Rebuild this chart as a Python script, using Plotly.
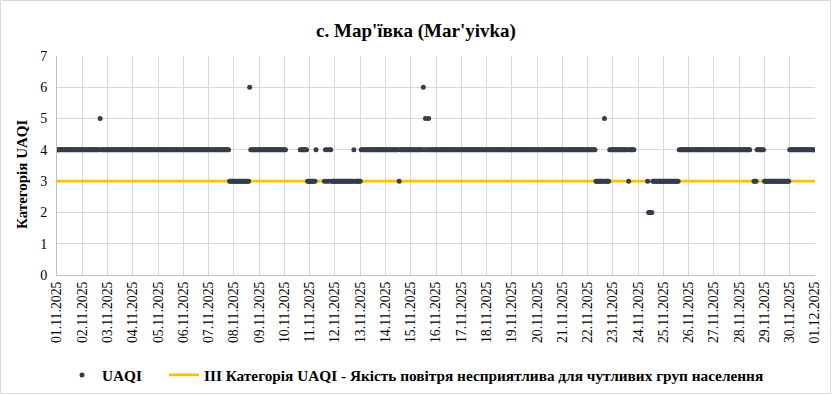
import datetime as dt
import plotly.graph_objects as go

# Hourly UAQI category, one string per day (24 hours), '-' = no data
start_date = dt.datetime(2025, 11, 1)
uaqi_by_day = [
    "444444444444444444444444",  # 01.11
    "444444444444444445444444",  # 02.11
    "444444444444444444444444",  # 03.11
    "444444444444444444444444",  # 04.11
    "444444444444444444444444",  # 05.11
    "444444444444444444444444",  # 06.11
    "444444444444444444443333",  # 07.11
    "333333333333333644444444",  # 08.11
    "444444444444444444444444",  # 09.11
    "44-------------444444433",  # 10.11
    "3333334-------3434344333",  # 11.11
    "333333333333333333433333",  # 12.11
    "344444444444444444444444",  # 13.11
    "444444444444434444444444",  # 14.11
    "444444444444645445444444",  # 15.11
    "444444444444444444444444",  # 16.11
    "444444444444444444444444",  # 17.11
    "444444444444444444444444",  # 18.11
    "444444444444444444444444",  # 19.11
    "444444444444444444444444",  # 20.11
    "444444444444444444444444",  # 21.11
    "444444443333333353333444",  # 22.11
    "444444444444444344444---",  # 23.11
    "---------322223333333333",  # 24.11
    "333333333333333444444444",  # 25.11
    "444444444444444444444444",  # 26.11
    "444444444444444444444444",  # 27.11
    "44444444444---3334444444",  # 28.11
    "333333333333333333333333",  # 29.11
    "444444444444444444444444",  # 30.11
]
threshold_value = 3
threshold_dates = ["2025-11-01", "2025-12-01"]
title_text = "с. Мар'ївка (Mar'yivka)"
y_title = "Категорія UAQI"
series_name = "UAQI"
threshold_name = "III Категорія UAQI - Якість повітря несприятлива для чутливих груп населення"

xs, ys = [], []
for d, day in enumerate(uaqi_by_day):
    for h, ch in enumerate(day):
        if ch != "-":
            xs.append(start_date + dt.timedelta(days=d, hours=h))
            ys.append(int(ch))

FONT = "Liberation Serif, Times New Roman, serif"
W, H = 832, 395
ml, mr, mt, mb = 57, 17, 56, 120
pw = W - ml - mr
ph = H - mt - mb


def px_x(x):
    return (x - ml) / pw


def px_y(y):
    return (H - mb - y) / ph


fig = go.Figure()
fig.add_trace(go.Scatter(
    x=threshold_dates, y=[threshold_value] * len(threshold_dates),
    mode="lines", name=threshold_name, legend="legend2",
    line=dict(color="#FFC000", width=2.75),
))
fig.add_trace(go.Scatter(
    x=xs, y=ys, mode="markers", name=series_name, legend="legend",
    marker=dict(color="#333d4d", size=5),
))

fig.add_shape(type="rect", xref="paper", yref="paper",
              x0=px_x(0.5), x1=px_x(W - 1.5),
              y0=px_y(H - 1.5), y1=px_y(0.5),
              line=dict(color="#d9d9d9", width=1), layer="below")

fig.add_annotation(text="<b>%s</b>" % y_title, xref="paper", yref="paper",
                   x=px_x(22), y=px_y(175), textangle=-90, showarrow=False,
                   xanchor="center", yanchor="middle",
                   font=dict(family=FONT, size=15, color="#000"))

legend_font = dict(family=FONT, size=15.3, weight="bold", color="#000")
fig.update_layout(
    width=W, height=H,
    margin=dict(l=ml, r=mr, t=mt, b=mb, autoexpand=False),
    paper_bgcolor="white", plot_bgcolor="white",
    font=dict(family=FONT, color="#000000", size=14),
    title=dict(text=title_text, x=0.5, xref="container", xanchor="center",
               y=1 - 30 / H, yanchor="middle",
               font=dict(family=FONT, size=19, weight="bold", color="#000")),
    xaxis=dict(type="date", range=["2025-11-01", "2025-12-01"],
               tick0="2025-11-01", dtick=86400000, tickformat="%d.%m.%Y",
               tickangle=-90, tickfont=dict(family=FONT, size=13.8, color="#000"),
               showgrid=True, gridcolor="#d9d9d9", gridwidth=1,
               showline=True, linecolor="#bfbfbf", zeroline=False, ticks=""),
    yaxis=dict(range=[0, 7], dtick=1, tick0=0,
               tickfont=dict(family=FONT, size=14, color="#000"),
               ticklabelstandoff=6,
               showgrid=True, gridcolor="#d9d9d9", gridwidth=1,
               showline=True, linecolor="#bfbfbf", zeroline=False),
    legend=dict(orientation="h", x=px_x(62), xanchor="left",
                y=px_y(375), yanchor="middle",
                font=legend_font, bgcolor="rgba(0,0,0,0)"),
    legend2=dict(orientation="h", x=px_x(164), xanchor="left",
                 y=px_y(375), yanchor="middle",
                 font=legend_font, bgcolor="rgba(0,0,0,0)"),
    showlegend=True,
)

fig.write_html("out.html", config={"displayModeBar": False},
               post_script="document.body.style.margin='0px';")
